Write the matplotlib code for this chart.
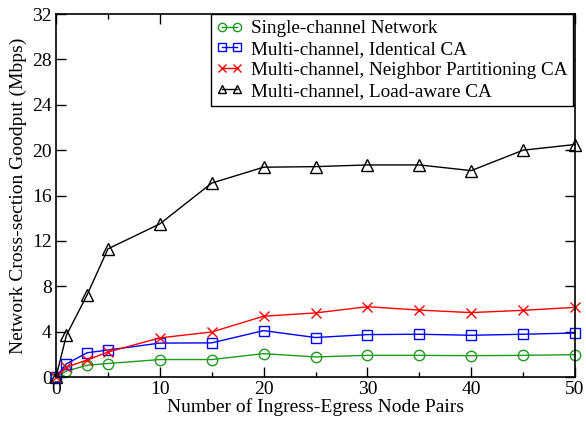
import matplotlib
matplotlib.use('Agg')
import matplotlib.pyplot as plt
from matplotlib.ticker import MultipleLocator

plt.rcParams['font.family'] = ['Liberation Serif', 'DejaVu Serif']

pairs = [0, 1, 3, 5, 10, 15, 20, 25, 30, 35, 40, 45, 50]
single = [0, 0.52, 1.04, 1.19, 1.54, 1.54, 2.06, 1.77, 1.91, 1.91, 1.88, 1.91, 1.97]
identical = [0, 1.16, 2.14, 2.38, 2.99, 3.01, 4.09, 3.48, 3.74, 3.77, 3.68, 3.77, 3.88]
neighbor = [0, 0.87, 1.5, 2.2, 3.45, 3.97, 5.36, 5.65, 6.2, 5.9, 5.68, 5.88, 6.14]
loadaware = [0, 3.68, 7.25, 11.3, 13.5, 17.1, 18.5, 18.55, 18.7, 18.7, 18.2, 20.0, 20.5]

labels = ['Single-channel Network', 'Multi-channel, Identical CA',
          'Multi-channel, Neighbor Partitioning CA', 'Multi-channel, Load-aware CA']

fs = 14

fig = plt.figure(figsize=(5.86, 4.21), dpi=100)
ax = fig.add_axes([0.0956, 0.1045, 0.8856, 0.862])

mfc = 'none'
ax.plot(pairs, single, color='#1f9a1f', lw=1, marker='o', ms=7.5, mfc=mfc, mew=1, label=labels[0], clip_on=False)
ax.plot(pairs, identical, color='#0000ff', lw=1, marker='s', ms=6.5, mfc=mfc, mew=1, label=labels[1], clip_on=False)
ax.plot(pairs, neighbor, color='#ff0000', lw=1, marker='x', ms=6.5, mew=1, label=labels[2], clip_on=False)
ax.plot(pairs, loadaware, color='black', lw=1, marker='^', ms=8, mfc=mfc, mew=1, label=labels[3], clip_on=False)

ax.set_xlim(0, 50)
ax.set_ylim(0, 32)
ax.xaxis.set_major_locator(MultipleLocator(10))
ax.xaxis.set_minor_locator(MultipleLocator(5))
ax.yaxis.set_major_locator(MultipleLocator(4))
ax.tick_params(which='both', direction='in', top=True, right=True, labelsize=fs, pad=3)
ax.tick_params(which='major', length=7, width=1)
ax.tick_params(which='minor', length=3.5, width=1)
for s in ax.spines.values():
    s.set_linewidth(1.2)

ax.set_xlabel('Number of Ingress-Egress Node Pairs', fontsize=fs, labelpad=0)
ax.set_ylabel('Network Cross-section Goodput (Mbps)', fontsize=fs, labelpad=4)

leg = ax.legend(loc='upper right', bbox_to_anchor=(0.997, 1), borderaxespad=0, fontsize=13.8,
                numpoints=2, handlelength=1.35, handletextpad=0.45, borderpad=0.3,
                labelspacing=0.18, markerscale=0.8, fancybox=False, framealpha=1,
                edgecolor='black')
leg.get_frame().set_linewidth(1)

fig.savefig('out.png', dpi=100)
